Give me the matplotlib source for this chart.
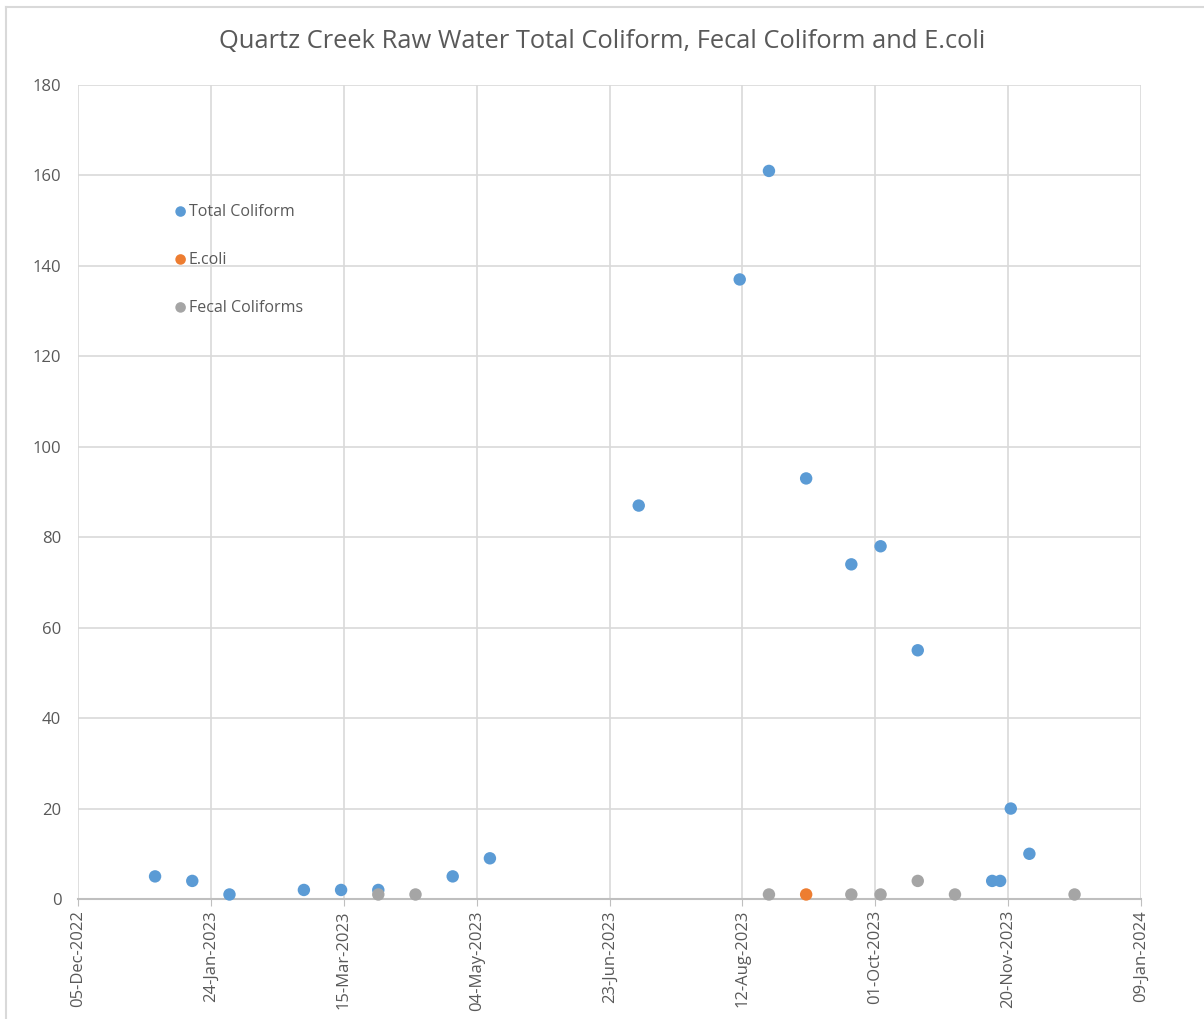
import numpy as np
import pandas as pd
import matplotlib
matplotlib.use("Agg")
import matplotlib.pyplot as plt
import matplotlib.dates as mdates
from matplotlib.lines import Line2D

# =============================================================================
# Data
# =============================================================================

total_dates = ["2023-01-03", "2023-01-17", "2023-01-31", "2023-02-28", "2023-03-14",
               "2023-03-28", "2023-04-25", "2023-05-09", "2023-07-04", "2023-08-11",
               "2023-08-22", "2023-09-05", "2023-09-22", "2023-10-03", "2023-10-17",
               "2023-11-14", "2023-11-17", "2023-11-21", "2023-11-28"]
total_values = [5, 4, 1, 2, 2, 2, 5, 9, 87, 137, 161, 93, 74, 78, 55, 4, 4, 20, 10]

ecoli_dates = ["2023-09-05"]
ecoli_values = [1]

fecal_dates = ["2023-03-28", "2023-04-11", "2023-08-22", "2023-09-22", "2023-10-03",
               "2023-10-17", "2023-10-31", "2023-12-15"]
fecal_values = [1, 1, 1, 1, 1, 4, 1, 1]

X_START = "2022-12-05"
X_END = "2024-01-09"
TICK_STEP_DAYS = 50

BLUE = "#5b9bd5"
ORANGE = "#ed7d31"
GRAY = "#a5a5a5"
TEXT = "#595959"
GRID = "#d9d9d9"

plt.rcParams["font.family"] = ["Open Sans", "DejaVu Sans"]

fig = plt.figure(figsize=(12.04, 10.19), dpi=100)
ax = fig.add_axes([78 / 1204, 1 - 899 / 1019, (1141 - 78) / 1204, (899 - 85) / 1019])

# chart area border (only top and left edges visible)
fig.add_artist(Line2D([6 / 1204, 1], [1 - 7 / 1019, 1 - 7 / 1019], transform=fig.transFigure,
                      color="#d9d9d9", linewidth=1.5))
fig.add_artist(Line2D([6 / 1204, 6 / 1204], [0, 1 - 7 / 1019], transform=fig.transFigure,
                      color="#d9d9d9", linewidth=1.5))

series = [
    ("Total Coliform", total_dates, total_values, BLUE),
    ("E.coli", ecoli_dates, ecoli_values, ORANGE),
    ("Fecal Coliforms", fecal_dates, fecal_values, GRAY),
]
for label, dates, values, color in series:
    ax.scatter(pd.to_datetime(dates), values, s=80, color=color,
               edgecolors="none", label=label, zorder=3, clip_on=False)

x0 = pd.Timestamp(X_START)
x1 = pd.Timestamp(X_END)
ax.set_xlim(x0, x1)
ax.set_ylim(0, 180)
ax.set_xticks(pd.date_range(x0, x1, freq=f"{TICK_STEP_DAYS}D"))
ax.xaxis.set_major_formatter(mdates.DateFormatter("%d-%b-%Y"))
ax.set_yticks(np.arange(0, 181, 20))

ax.grid(True, color=GRID, linewidth=1.2, zorder=0)
ax.set_axisbelow(True)
for side in ("top", "right", "left"):
    ax.spines[side].set_visible(False)
ax.spines["bottom"].set_color("#bfbfbf")
ax.spines["bottom"].set_linewidth(1.5)

ax.tick_params(axis="x", rotation=90, labelsize=12, colors=TEXT, length=5,
               color="#bfbfbf", pad=3)
ax.tick_params(axis="y", labelsize=12, colors=TEXT, length=0, pad=12)

fig.text(0.5, 1 - 42 / 1019, "Quartz Creek Raw Water Total Coliform, Fecal Coliform and E.coli",
         ha="center", va="center", fontsize=18.4, color=TEXT)

leg = ax.legend(loc="upper left", bbox_to_anchor=(0.083, 0.862), frameon=False,
                fontsize=11.5, labelspacing=2.0, handletextpad=0.0, handlelength=1.0,
                borderaxespad=0, markerscale=0.85)
for t in leg.get_texts():
    t.set_color(TEXT)

fig.savefig("out.png", dpi=100)
